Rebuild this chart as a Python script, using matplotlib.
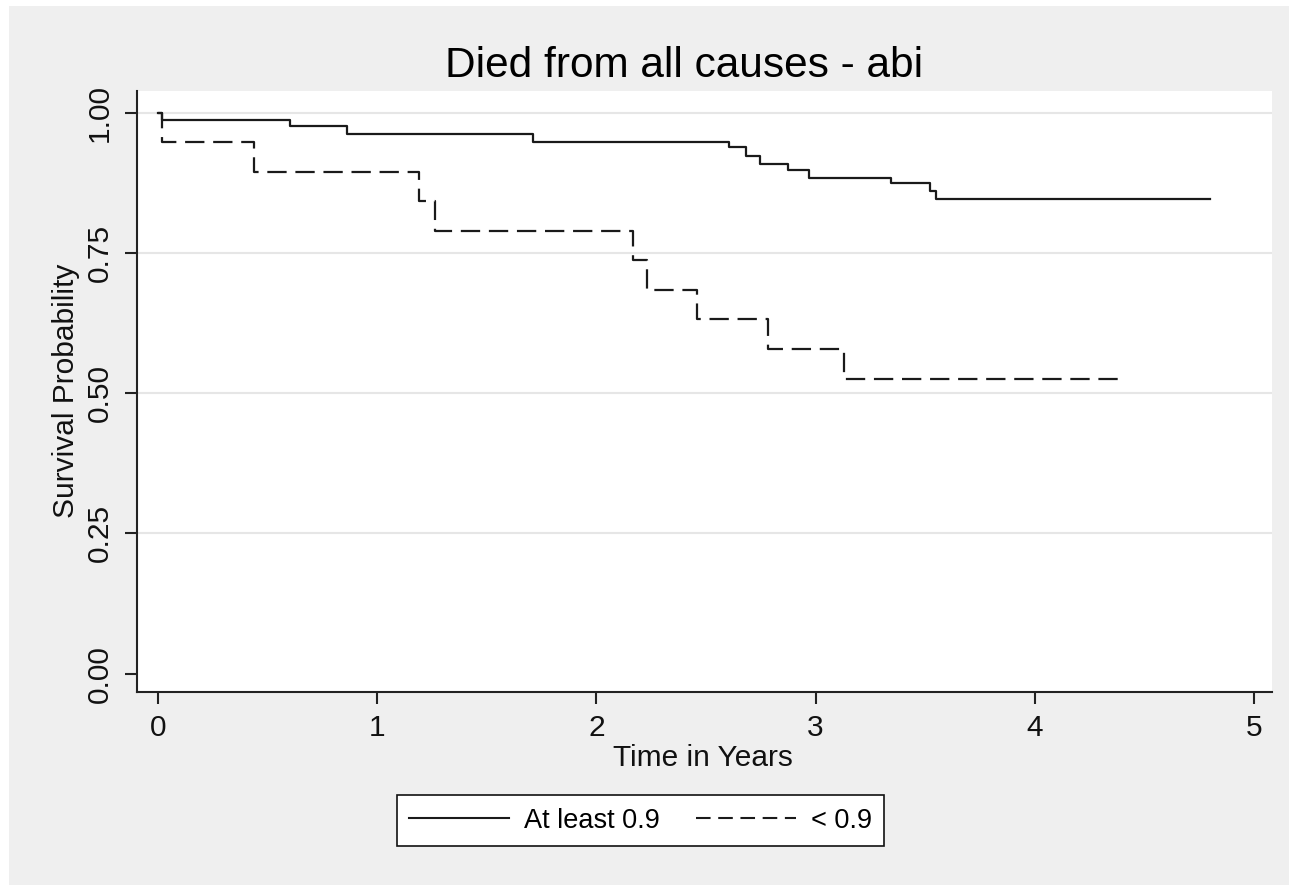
import matplotlib
matplotlib.use("Agg")
import matplotlib.pyplot as plt
from matplotlib import font_manager
from matplotlib.patches import Rectangle

# ---- data ----
title = "Died from all causes - abi"
xlabel = "Time in Years"
ylabel = "Survival Probability"
group_labels = ["At least 0.9", "< 0.9"]

t_high = [0.0, 0.020, 0.602, 0.864, 1.712, 2.604, 2.681, 2.746, 2.874, 2.970, 3.344, 3.522, 3.548, 4.799]
s_high = [1.000, 0.987, 0.977, 0.962, 0.948, 0.938, 0.923, 0.909, 0.898, 0.884, 0.874, 0.861, 0.846, 0.846]

t_low = [0.0, 0.020, 0.438, 1.192, 1.265, 2.168, 2.232, 2.458, 2.784, 3.131, 4.411]
s_low = [1.000, 0.947, 0.895, 0.842, 0.789, 0.737, 0.684, 0.632, 0.579, 0.526, 0.526]

xticks = [0, 1, 2, 3, 4, 5]
yticks = [0.00, 0.25, 0.50, 0.75, 1.00]
ytick_labels = ["0.00", "0.25", "0.50", "0.75", "1.00"]

# ---- fonts ----
names = {f.name for f in font_manager.fontManager.ttflist}
base_font = "Liberation Sans" if "Liberation Sans" in names else "DejaVu Sans"
plt.rcParams["font.family"] = [base_font, "DejaVu Sans"]
plt.rcParams["lines.scale_dashes"] = False

W, H = 1289, 885
fig = plt.figure(figsize=(W / 100, H / 100), dpi=100, facecolor="white")
# Stata-like light gray graph region (behind everything)
fig.patches.append(Rectangle((9 / W, -0.01), 1.01 - 9 / W, (H - 6) / H + 0.01, transform=fig.transFigure,
                             facecolor="#efefef", edgecolor="none", zorder=-10))

ax = fig.add_axes([137 / W, 1 - 692 / H, (1272 - 137) / W, (692 - 91) / H])
ax.set_facecolor("white")

line_color = "#1a1a1a"
l1, = ax.step(t_high, s_high, where="post", color=line_color, lw=1.6, label=group_labels[0])
l2, = ax.step(t_low, s_low, where="post", color=line_color, lw=1.6, label=group_labels[1])
l2.set_dashes((13.9, 6.3))

ax.set_xlim(-0.0958, 5.082)
ax.set_ylim(-0.0328, 1.0386)
ax.set_xticks(xticks)
ax.set_xticklabels([str(v) for v in xticks])
ax.set_yticks(yticks)
ax.set_yticklabels(ytick_labels, rotation=90, va="center")

for s in ["top", "right"]:
    ax.spines[s].set_visible(False)
for s in ["left", "bottom"]:
    ax.spines[s].set_linewidth(1.5)
    ax.spines[s].set_color("#222222")

ax.tick_params(axis="both", direction="out", length=8.5, width=1.5, color="#222222",
               labelsize=21.5, labelcolor="#111111")
ax.tick_params(axis="x", pad=7)
ax.tick_params(axis="y", pad=8)

ax.yaxis.grid(True, color="#e6e6e6", lw=1.5)
ax.set_axisbelow(True)
ax.yaxis.get_major_ticks()[0].gridline.set_visible(False)

ax.set_xlabel(xlabel, fontsize=21.5, color="#111111")
ax.xaxis.set_label_coords(0.4987, -0.086)
ax.set_ylabel(ylabel, fontsize=21.5, color="#111111")
ax.yaxis.set_label_coords(-0.0502, 0.5006)

fig.text(684 / W, 1 - 76.7 / H, title, fontsize=30.5, ha="center", va="baseline", color="#000000")

leg = fig.legend(handles=[l1, l2], labels=group_labels, loc="center",
                 bbox_to_anchor=(640.5 / W, 1 - 820.5 / H), ncol=2,
                 prop={"size": 19.5},
                 frameon=True, fancybox=False, shadow=False, framealpha=1,
                 edgecolor="#111111", facecolor="white",
                 handlelength=3.69, handletextpad=0.55, columnspacing=1.33,
                 borderpad=0.45, borderaxespad=0)
leg.get_frame().set_linewidth(1.2)
for ln in leg.get_lines():
    ln.set_linewidth(1.5)
leg.get_lines()[1].set_dashes((10.5, 5.5))

fig.savefig("out.png", dpi=100, facecolor=fig.get_facecolor())
